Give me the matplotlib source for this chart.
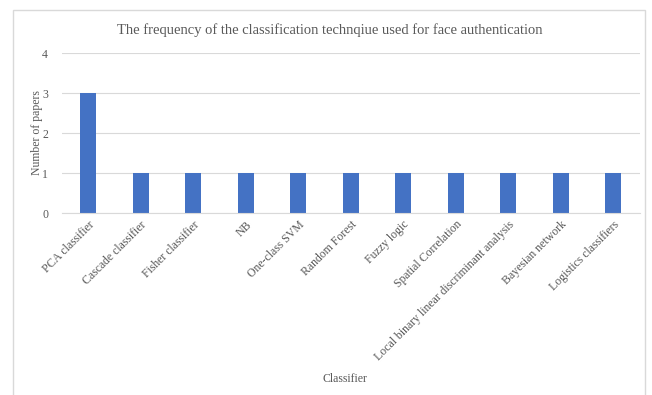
import matplotlib
matplotlib.use("Agg")
import matplotlib.pyplot as plt
from matplotlib.patches import Rectangle

categories = ["PCA classifier", "Cascade classifier", "Fisher classifier", "NB",
              "One-class SVM", "Random Forest", "Fuzzy logic", "Spatial Correlation",
              "Local binary linear discriminant analysis", "Bayesian network",
              "Logistics classifiers"]
counts = [3, 1, 1, 1, 1, 1, 1, 1, 1, 1, 1]
yticks = [0, 1, 2, 3, 4]

plt.rcParams['font.family'] = ['Liberation Serif', 'DejaVu Serif']
txt = '#595959'

fig = plt.figure(figsize=(6.52, 3.95), dpi=100)
W, H = 652, 395
ax = fig.add_axes([62 / W, 1 - 213 / H, (639.5 - 62) / W, 160 / H])

x = list(range(len(categories)))
ax.bar(x, counts, width=0.3, color='#4472C4', zorder=3)
ax.set_xlim(-0.5, len(categories) - 0.5)
ax.set_ylim(0, 4)
ax.set_yticks(yticks)
ax.set_yticklabels([str(v) for v in yticks], color=txt, fontsize=8.5)
ax.yaxis.grid(True, color='#D9D9D9', linewidth=0.8, zorder=0)
ax.set_xticks(x)
ax.set_xticklabels(categories, rotation=45, ha='right', rotation_mode='anchor',
                   color=txt, fontsize=8.5)
ax.tick_params(axis='both', length=0)
ax.tick_params(axis='y', pad=10)
ax.tick_params(axis='x', pad=4)
for s in ['top', 'right', 'left']:
    ax.spines[s].set_visible(False)
ax.spines['bottom'].set_color('#D9D9D9')
ax.spines['bottom'].set_zorder(4)

fig.text(330 / W, 1 - 30 / H, "The frequency of the classification technqiue used for face authentication",
         ha='center', va='center', color=txt, fontsize=10.5)
fig.text(37 / W, 1 - 133 / H, "Number of papers", rotation=90, ha='center', va='center',
         color=txt, fontsize=8.5)
fig.text(345 / W, 1 - 379 / H, "Classifier", ha='center', va='center', color=txt, fontsize=8.5)

fig.patches.append(Rectangle((13 / W, -0.05), (645 - 13) / W, 1.05 - 10 / H,
                             transform=fig.transFigure, fill=False,
                             edgecolor='#D9D9D9', linewidth=1))

fig.savefig("out.png", dpi=100)
